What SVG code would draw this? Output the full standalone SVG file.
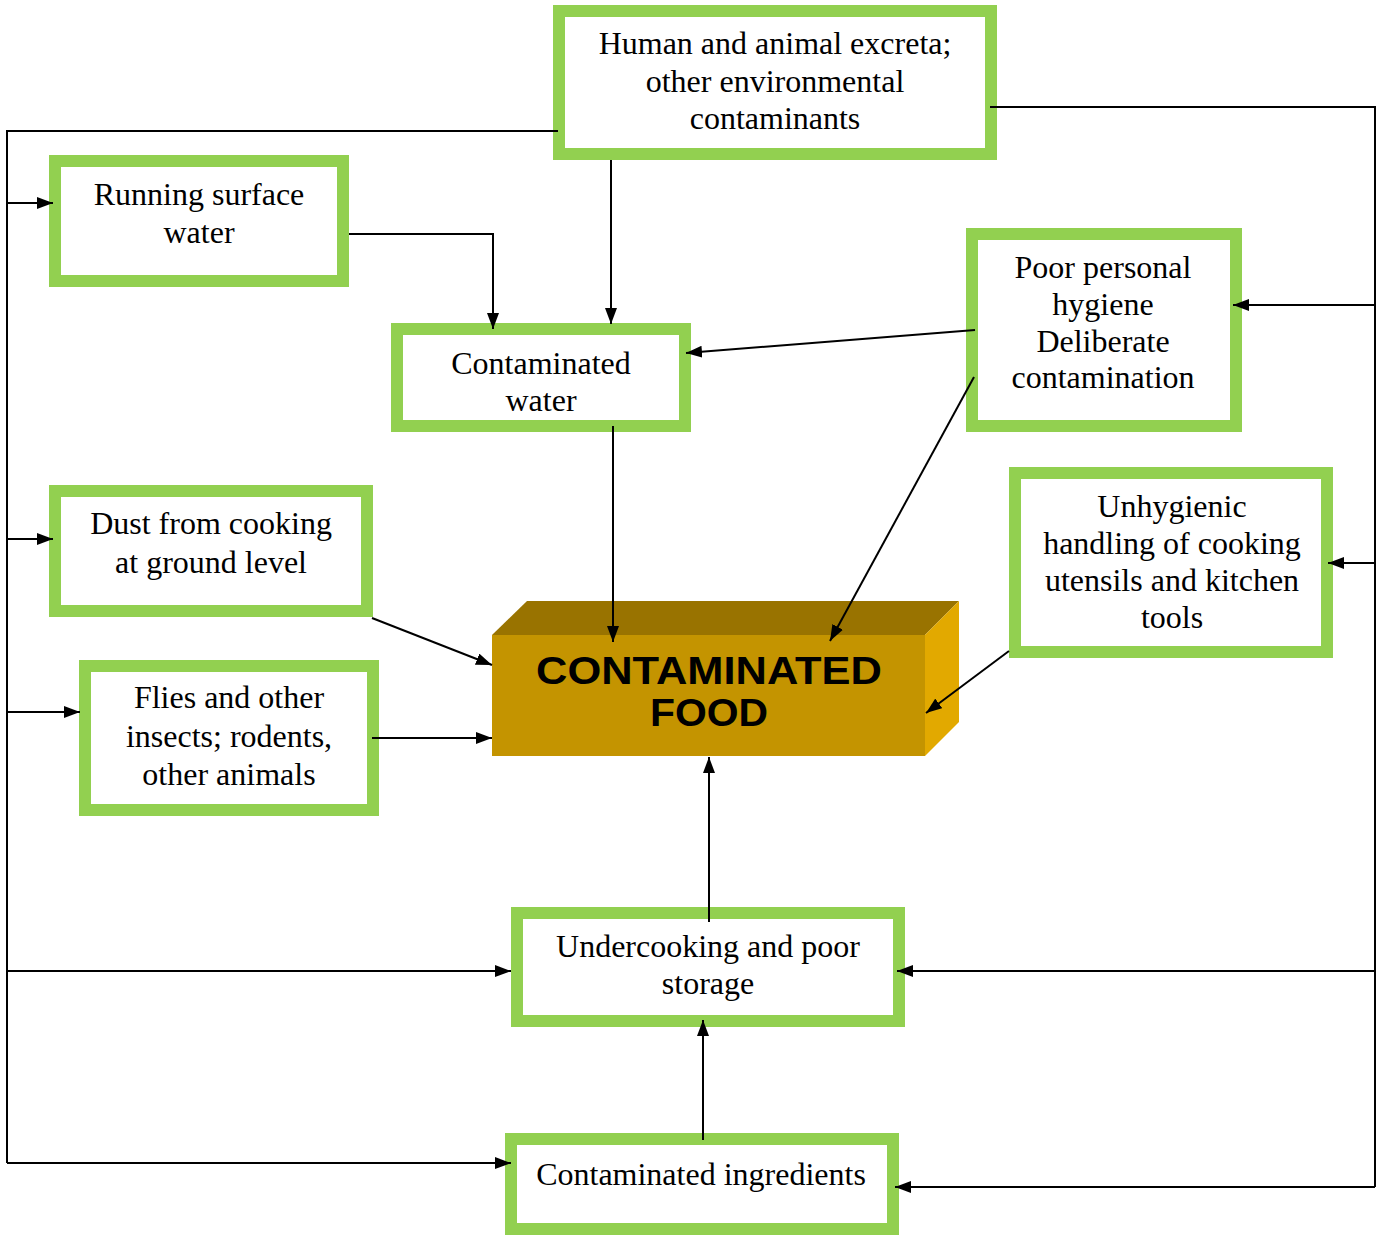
<svg xmlns="http://www.w3.org/2000/svg" width="1383" height="1236" viewBox="0 0 1383 1236">
<style>
.box{fill:#fff;stroke:#92D050;stroke-width:12}
.t{font-family:"Liberation Serif","Times New Roman",serif;font-size:32px;fill:#000;text-anchor:middle}
.c{fill:none;stroke:#000;stroke-width:2}
.a{marker-end:url(#ah)}
.ft{font-family:"Liberation Sans",Arial,sans-serif;font-weight:bold;font-size:38px;fill:#000;text-anchor:middle}
</style>
<defs>
<marker id="ah" markerUnits="userSpaceOnUse" markerWidth="16" markerHeight="12" refX="16" refY="6" orient="auto">
<path d="M0,0 L16,6 L0,12 z" fill="#000"/>
</marker>
</defs>
<rect width="1383" height="1236" fill="#fff"/>
<g id="food">
<polygon points="492,635 527,601 959,601 925,635" fill="#997300"/>
<polygon points="925,635 959,601 959,722 925,756" fill="#E2A900"/>
<rect x="492" y="635" width="433" height="121" fill="#C49400"/>
<text class="ft" x="709" y="684" textLength="346" lengthAdjust="spacingAndGlyphs">CONTAMINATED</text>
<text class="ft" x="709" y="726" textLength="118" lengthAdjust="spacingAndGlyphs">FOOD</text>
</g>
<g id="human">
<rect class="box" x="559" y="11" width="432" height="143"/>
<text class="t" x="775" y="54">Human and animal excreta;</text>
<text class="t" x="775" y="92">other environmental</text>
<text class="t" x="775" y="129">contaminants</text>
</g>
<g id="running">
<rect class="box" x="55" y="161" width="288" height="120"/>
<text class="t" x="199" y="205">Running surface</text>
<text class="t" x="199" y="243">water</text>
</g>
<g id="cwater">
<rect class="box" x="397" y="329" width="288" height="97"/>
<text class="t" x="541" y="374">Contaminated</text>
<text class="t" x="541" y="411">water</text>
</g>
<g id="poor">
<rect class="box" x="972" y="234" width="264" height="192"/>
<text class="t" x="1103" y="278">Poor personal</text>
<text class="t" x="1103" y="315">hygiene</text>
<text class="t" x="1103" y="352">Deliberate</text>
<text class="t" x="1103" y="388">contamination</text>
</g>
<g id="unhyg">
<rect class="box" x="1015" y="473" width="312" height="179"/>
<text class="t" x="1172" y="517">Unhygienic</text>
<text class="t" x="1172" y="554">handling of cooking</text>
<text class="t" x="1172" y="591">utensils and kitchen</text>
<text class="t" x="1172" y="628">tools</text>
</g>
<g id="dust">
<rect class="box" x="55" y="491" width="312" height="120"/>
<text class="t" x="211" y="534">Dust from cooking</text>
<text class="t" x="211" y="573">at ground level</text>
</g>
<g id="flies">
<rect class="box" x="85" y="666" width="288" height="144"/>
<text class="t" x="229" y="708">Flies and other</text>
<text class="t" x="229" y="747">insects; rodents,</text>
<text class="t" x="229" y="785">other animals</text>
</g>
<g id="under">
<rect class="box" x="517" y="913" width="382" height="108"/>
<text class="t" x="708" y="957">Undercooking and poor</text>
<text class="t" x="708" y="994">storage</text>
</g>
<g id="ingred">
<rect class="box" x="511" y="1139" width="382" height="90"/>
<text class="t" x="701" y="1185">Contaminated ingredients</text>
</g>
<g id="connectors">
<polyline class="c" points="558,131 7,131 7,1163"/>
<polyline class="c a" points="7,203 53,203"/>
<polyline class="c a" points="7,539 53,539"/>
<polyline class="c a" points="7,712 80,712"/>
<polyline class="c a" points="7,971 511,971"/>
<polyline class="c a" points="7,1163 511,1163"/>
<polyline class="c" points="990,107 1375,107 1375,1187"/>
<polyline class="c a" points="1375,305 1233,305"/>
<polyline class="c a" points="1375,563 1328,563"/>
<polyline class="c a" points="1375,971 897,971"/>
<polyline class="c a" points="1375,1187 895,1187"/>
<polyline class="c a" points="349,234 493,234 493,329"/>
<polyline class="c a" points="611,160 611,324"/>
<polyline class="c a" points="975,330 686,353"/>
<polyline class="c a" points="613,426 613,642"/>
<polyline class="c a" points="974,377 830,641"/>
<polyline class="c a" points="372,618 492,665"/>
<polyline class="c a" points="372,738 492,738"/>
<polyline class="c a" points="1009,651 926,713"/>
<polyline class="c a" points="709,922 709,757"/>
<polyline class="c a" points="703,1140 703,1020"/>
</g>
</svg>
